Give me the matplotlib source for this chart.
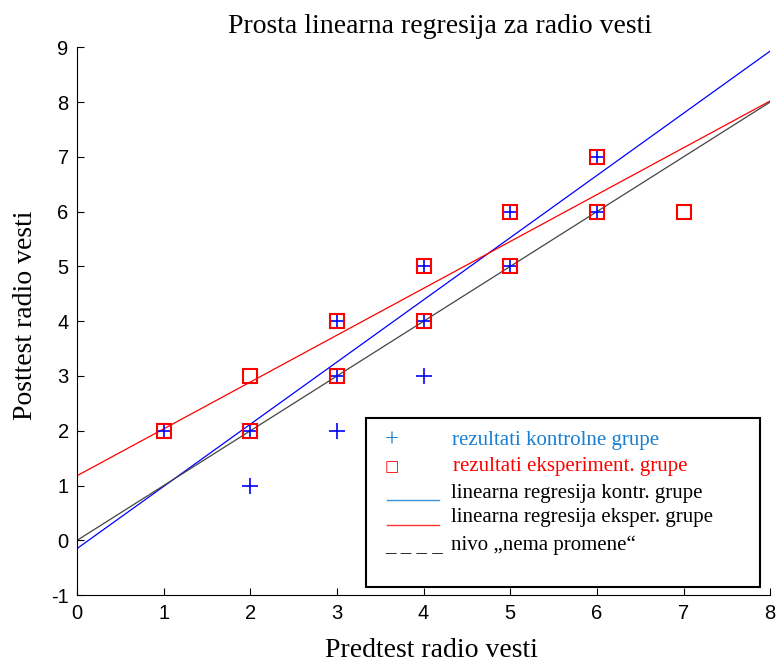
import matplotlib.pyplot as plt
from matplotlib.patches import Rectangle

# kontrolna grupa (plus) i eksperimentalna grupa (kvadrat)
kontr_x = [1, 2, 2, 3, 3, 3, 4, 4, 4, 5, 5, 6, 6]
kontr_y = [2, 2, 1, 3, 2, 4, 4, 5, 3, 5, 6, 6, 7]
eksp_x = [1, 2, 2, 3, 3, 4, 4, 5, 5, 6, 6, 7]
eksp_y = [2, 2, 3, 3, 4, 4, 5, 5, 6, 6, 7, 6]

# regresione prave (odsecak, nagib) i raspon x
kontr_fit = (-0.15, 1.135)
eksp_fit = (1.18, 0.855)
nivo_fit = (0.0, 1.0)
x_range = [0, 8]

serif = 'Liberation Serif'
sans = 'Liberation Sans'
plt.rcParams['axes.unicode_minus'] = False

fig = plt.figure(figsize=(7.78, 6.65), dpi=100)
ax = fig.add_axes([0.099, 0.105, 0.891, 0.824])

for (b, k), c in [(kontr_fit, 'blue'), (eksp_fit, 'red'), (nivo_fit, '#444444')]:
    ax.plot(x_range, [b + k * x for x in x_range], color=c, lw=0.9)

ax.plot(kontr_x, kontr_y, '+', color='blue', ms=11, mew=1.2, ls='none')
ax.plot(eksp_x, eksp_y, 's', mfc='none', mec='red', ms=10, mew=1.5, ls='none')

ax.set_xlim(0, 8)
ax.set_ylim(-1, 9)
ax.set_xticks(range(0, 9))
ax.set_yticks(range(-1, 10))
ax.spines['top'].set_visible(False)
ax.spines['right'].set_visible(False)
ax.tick_params(direction='in', length=5, labelsize=14.5, pad=6)
for lbl in ax.get_xticklabels() + ax.get_yticklabels():
    lbl.set_fontfamily(sans)

ax.set_title('Prosta linearna regresija za radio vesti', fontsize=20, family=serif,
             x=0.524, pad=10)
ax.set_xlabel('Predtest radio vesti', fontsize=20, family=serif)
ax.set_ylabel('Posttest radio vesti', fontsize=20, family=serif)
ax.xaxis.set_label_coords(0.512, -0.079)
ax.yaxis.set_label_coords(-0.057, 0.511)

# legenda rucno
ax.add_patch(Rectangle((0.417, 0.015), 0.568, 0.308, transform=ax.transAxes,
                       fill=False, ec='black', lw=1.5, zorder=5))
rows = [0.283, 0.235, 0.186, 0.141, 0.091]
fs = 15
tx = 0.541
ax.text(0.4545, rows[0], '+', color='#1a7fd0', fontsize=fs + 3, family=serif,
        transform=ax.transAxes, ha='center', va='center')
ax.text(0.4545, rows[1], '\u25a1', color='red', fontsize=fs - 4, family='DejaVu Sans',
        transform=ax.transAxes, ha='center', va='center')
ax.plot([0.447, 0.522], [0.173] * 2, color='#3a8fd8', lw=1.0, transform=ax.transAxes)
ax.plot([0.447, 0.522], [0.128] * 2, color='#ff3030', lw=1.0, transform=ax.transAxes)
ax.text(0.445, rows[4], '_ _ _ _', color='black', fontsize=fs, family=serif,
        transform=ax.transAxes, ha='left', va='center')
ax.text(tx, rows[0], 'rezultati kontrolne grupe', color='#1a7fd0', fontsize=fs,
        family=serif, transform=ax.transAxes, va='center')
ax.text(tx + 0.002, rows[1], 'rezultati eksperiment. grupe', color='red', fontsize=fs,
        family=serif, transform=ax.transAxes, va='center')
ax.text(tx - 0.002, rows[2], 'linearna regresija kontr. grupe', color='black', fontsize=fs,
        family=serif, transform=ax.transAxes, va='center')
ax.text(tx - 0.002, rows[3], 'linearna regresija eksper. grupe', color='black', fontsize=fs,
        family=serif, transform=ax.transAxes, va='center')
ax.text(tx - 0.002, rows[4], 'nivo \u201enema promene\u201c', color='black', fontsize=fs,
        family=serif, transform=ax.transAxes, va='center')

fig.savefig('out.png', dpi=100)
